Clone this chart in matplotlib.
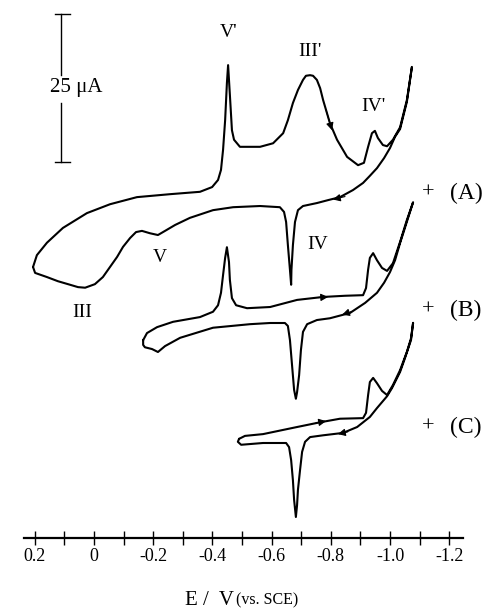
import matplotlib
matplotlib.use("Agg")
import numpy as np
import matplotlib.pyplot as plt

plt.rcParams["font.family"] = ["Liberation Serif", "DejaVu Serif"]

# ---- data: E (V vs SCE), I (uA, cathodic up) ----
E_A = [0.206, 0.193, 0.159, 0.105, 0.024, -0.054, -0.145, -0.257, -0.358, -0.399,
       -0.419, -0.429, -0.436, -0.443, -0.449, -0.453, -0.459, -0.466, -0.473, -0.493,
       -0.561, -0.605, -0.639, -0.655, -0.672, -0.689, -0.706, -0.716, -0.730, -0.740,
       -0.753, -0.764, -0.774, -0.797, -0.821,
       -0.855, -0.892, -0.912, -0.926, -0.939, -0.949, -0.959, -0.976, -0.990, -1.010,
       -1.034, -1.057, -1.074,
       -1.057, -1.034, -1.017, -1.000, -0.980, -0.956, -0.932, -0.909, -0.875, -0.831,
       -0.791, -0.753, -0.706, -0.689, -0.679, -0.672, -0.667, -0.666, -0.662, -0.655,
       -0.649, -0.642, -0.628, -0.561, -0.470, -0.402, -0.324, -0.274, -0.240, -0.216,
       -0.189, -0.162, -0.142, -0.122, -0.098, -0.078, -0.054, -0.030, -0.003, 0.030,
       0.054, 0.081, 0.122, 0.159, 0.199, 0.206]
I_A = [-12.5, -10.5, -8.4, -5.9, -3.4, -1.9, -0.7, -0.2, 0.2, 1.0,
       2.2, 3.9, 7.3, 12.3, 18.6, 21.6, 16.6, 10.6, 9.0, 7.8,
       7.8, 8.4, 10.1, 12.3, 15.2, 17.4, 19.1, 19.8, 19.9, 19.8,
       19.1, 17.7, 15.7, 11.8, 9.0,
       6.1, 4.7, 5.1, 7.8, 10.1, 10.5, 9.3, 8.1, 7.9, 9.0,
       11.1, 15.7, 21.3,
       15.4, 10.8, 9.5, 7.6, 5.9, 4.2, 2.9, 1.7, 0.5, -0.7,
       -1.2, -1.7, -2.2, -2.9, -4.9, -8.8, -13.0, -15.5, -13.0, -8.8,
       -4.9, -3.2, -2.4, -2.2, -2.4, -2.9, -4.2, -5.4, -6.4, -7.1,
       -6.8, -6.4, -6.6, -7.6, -9.1, -10.8, -12.5, -14.2, -15.4, -16.0,
       -15.9, -15.5, -14.9, -14.2, -13.5, -12.5]

E_B = [-0.166, -0.179, -0.213, -0.267, -0.358, -0.402, -0.419, -0.429, -0.436, -0.443,
       -0.449, -0.456, -0.459, -0.466, -0.480, -0.517, -0.595, -0.686, -0.774, -0.848,
       -0.909, -0.919, -0.926, -0.932, -0.943, -0.956, -0.973, -0.990, -1.010, -1.034,
       -1.057, -1.078,
       -1.057, -1.034, -1.017, -1.000, -0.980, -0.956, -0.916, -0.865, -0.797, -0.753,
       -0.720, -0.706, -0.699, -0.693, -0.686, -0.682, -0.676, -0.669, -0.662, -0.655,
       -0.645, -0.595, -0.527, -0.402, -0.291, -0.240, -0.216, -0.196, -0.172, -0.166,
       -0.166]
I_B = [-5.1, -3.9, -2.9, -2.0, -1.2, -0.3, 0.8, 2.9, 5.9, 8.8,
       10.6, 8.1, 5.1, 2.0, 0.8, 0.3, 0.5, 1.7, 2.2, 2.4,
       2.5, 3.7, 6.8, 8.8, 9.6, 8.4, 7.1, 6.6, 7.9, 11.5,
       15.2, 18.2,
       14.9, 11.3, 8.4, 6.4, 4.6, 2.9, 1.2, -0.5, -1.4, -1.7,
       -2.4, -3.7, -6.8, -11.0, -13.9, -15.0, -13.5, -9.3, -5.1, -2.7,
       -2.2, -2.2, -2.4, -3.0, -4.7, -6.1, -7.1, -6.6, -6.3, -5.9,
       -5.1]

E_C = [-0.490, -0.510, -0.571, -0.686, -0.764, -0.831, -0.909, -0.919, -0.926, -0.932,
       -0.943, -0.956, -0.973, -0.990, -1.010, -1.034, -1.057, -1.071, -1.078,
       -1.071, -1.051, -1.034, -1.007, -0.990, -0.956, -0.932, -0.889, -0.841, -0.774,
       -0.730, -0.713, -0.703, -0.696, -0.689, -0.686, -0.682, -0.676, -0.672, -0.666,
       -0.659, -0.649, -0.571, -0.497, -0.486, -0.490]
I_C = [-2.0, -1.5, -1.2, 0.0, 0.8, 1.4, 1.5, 2.4, 5.4, 7.6,
       8.3, 7.4, 6.1, 5.4, 7.1, 9.6, 12.7, 15.0, 17.6,
       14.7, 11.7, 9.3, 6.6, 5.2, 3.2, 1.7, 0.0, -1.0, -1.4,
       -1.7, -2.5, -4.2, -7.3, -10.6, -13.2, -15.2, -12.3, -9.0, -5.6,
       -3.4, -2.7, -2.7, -3.0, -2.5, -2.0]

curves = {"A": (E_A, I_A), "B": (E_B, I_B), "C": (E_C, I_C)}
offsets = {"A": 70.44, "B": 50.68, "C": 30.91}   # vertical stacking, uA

# scan-direction arrows: (E_from, I_from, E_to, I_to)
arrows = {
    "A": [(-0.784, 14.0, -0.804, 10.6), (-0.848, -0.6, -0.807, -1.1)],
    "B": [(-0.757, 2.1, -0.791, 2.2), (-0.872, -0.25, -0.838, -0.8)],
    "C": [(-0.750, 0.7, -0.784, 1.0), (-0.858, -0.8, -0.824, -1.2)],
}

peak_labels = [("V'", -0.453, 97.5), ("III'", -0.730, 94.3), ("IV'", -0.943, 85.0),
               ("IV", -0.757, 61.7), ("V", -0.223, 59.6), ("III", 0.041, 50.3)]

major_ticks = [0.2, 0.0, -0.2, -0.4, -0.6, -0.8, -1.0, -1.2]
tick_labels = ["0.2", "0", "-0.2", "-0.4", "-0.6", "-0.8", "-1.0", "-1.2"]
minor_ticks = [0.1, -0.1, -0.3, -0.5, -0.7, -0.9, -1.1]

fig = plt.figure(figsize=(4.91, 6.10), dpi=100)
ax = fig.add_axes([0, 0, 1, 1])
ax.set_xlim(0.3176, -1.3412)
ax.set_ylim(0, 103.04)

for k, (E, I) in curves.items():
    ax.plot(E, np.array(I) + offsets[k], color="k", lw=1.5,
            solid_joinstyle="round", solid_capstyle="round")
    for e0, i0, e1, i1 in arrows[k]:
        ax.annotate("", xy=(e1, i1 + offsets[k]), xytext=(e0, i0 + offsets[k]),
                    arrowprops=dict(arrowstyle="-|>", color="k", lw=0.8,
                                    mutation_scale=11, shrinkA=0, shrinkB=0))
    ax.text(-1.128, offsets[k], "+", fontsize=16, ha="center", va="center")
    ax.text(-1.257, offsets[k], "(%s)" % k, fontsize=17, ha="center", va="center")

for s, e, y in peak_labels:
    ax.text(e, y, s, fontsize=14, ha="center", va="center")

# 25 uA scale bar
ax.plot([0.111, 0.111], [100.7, 90.4], color="k", lw=1.0)
ax.plot([0.111, 0.111], [85.6, 75.7], color="k", lw=1.0)
ax.plot([0.132, 0.081], [100.7, 100.7], color="k", lw=1.0)
ax.plot([0.132, 0.081], [75.7, 75.7], color="k", lw=1.0)
ax.text(0.149, 88.2, "25 \u03bcA", fontsize=15, ha="left", va="center")

# potential axis
for sp in ["top", "left", "right"]:
    ax.spines[sp].set_visible(False)
ax.spines["bottom"].set_position(("data", 12.16))
ax.spines["bottom"].set_bounds(0.235, -1.245)
ax.spines["bottom"].set_linewidth(1.6)
ax.set_xticks(major_ticks, labels=tick_labels)
ax.set_xticks(minor_ticks, minor=True)
ax.tick_params(axis="x", which="both", direction="inout", length=10, width=1.0,
               labelsize=13, pad=2)
ax.set_yticks([])

ax.text(-0.307, 0.9, "E /  V", fontsize=15, ha="left", va="baseline")
ax.text(-0.480, 0.9, "(vs. SCE)", fontsize=11.5, ha="left", va="baseline")

fig.savefig("out.png", dpi=100)
